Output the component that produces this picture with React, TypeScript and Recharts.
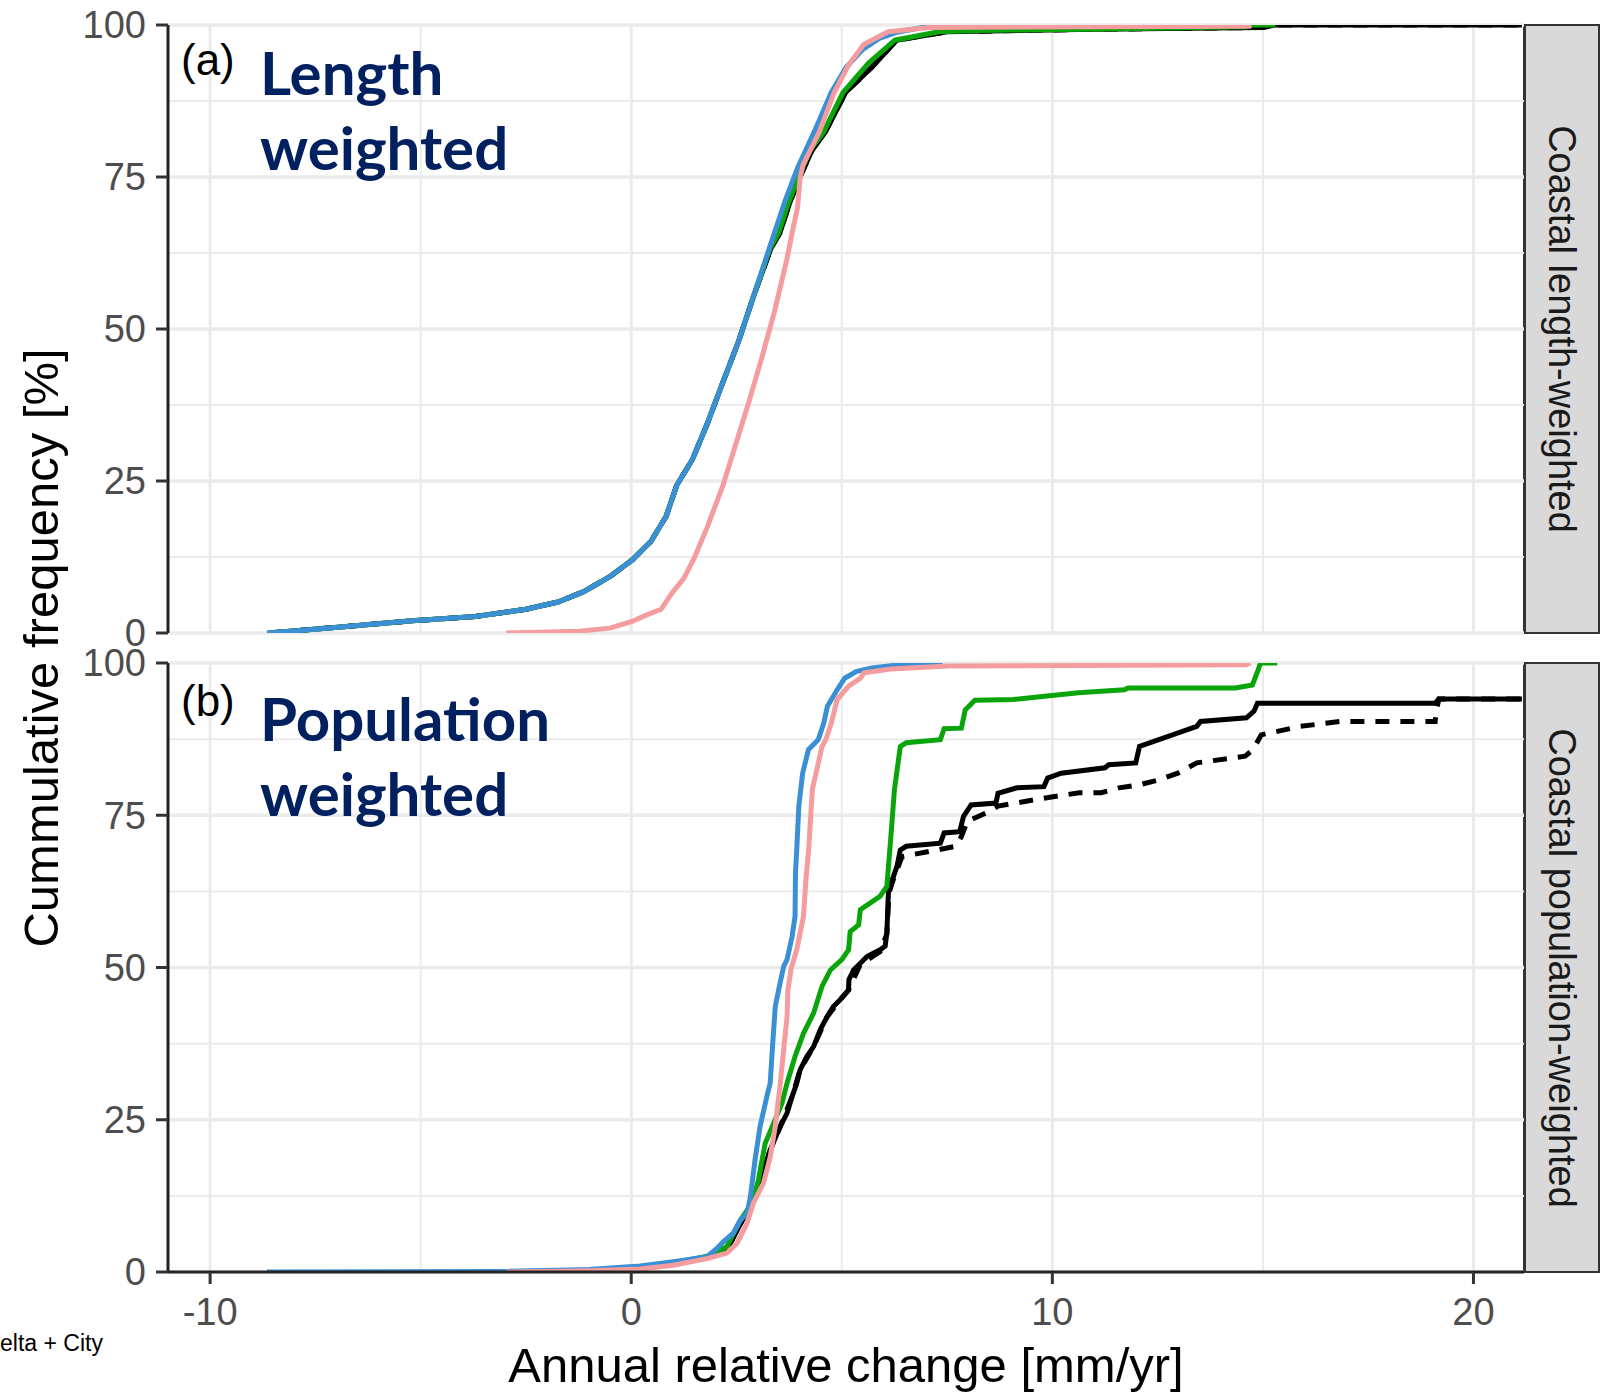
import React from "react";
import {
  LineChart,
  Line,
  XAxis,
  YAxis,
  ReferenceLine,
  ReferenceArea,
} from "recharts";

type Pair = [number, number];

// axis ticks / grid
const xTicks = [-10, 0, 10, 20];
const xMinor = [-5, 5, 15];
const yTicks = [0, 25, 50, 75, 100];
const yMinor = [12.5, 37.5, 62.5, 87.5];
const xDomain: [number, number] = [-11, 21.2];

// (a) coastal length-weighted: [mm/yr, cumulative %]
const lengthBlue: Pair[] = [
  [-8.65, 0], [-7.5, 0.6], [-6.9, 1], [-5.2, 2], [-3.7, 2.7], [-2.5, 3.9],
  [-1.74, 5.1], [-1.13, 6.8], [-0.5, 9.3], [0.02, 12], [0.47, 15.1],
  [0.83, 19.2], [1.08, 24.3], [1.45, 28.5], [1.81, 34.5], [2.18, 41.3],
  [2.55, 48], [2.92, 55.7], [3.28, 63.3], [3.65, 71], [3.95, 76.5],
  [4.35, 82.5], [4.75, 88.9], [5.1, 93], [5.5, 96], [5.89, 97.8],
  [6.3, 98.8], [7.0, 99.7], [7.4, 100],
];
const lengthPink: Pair[] = [
  [-2.97, 0], [-1.25, 0.3], [-0.5, 0.8], [0.02, 1.9], [0.34, 2.9],
  [0.71, 3.9], [0.96, 6.5], [1.25, 9], [1.5, 12.4], [1.81, 17.5],
  [2.18, 24.3], [2.48, 31], [2.79, 37.9], [3.11, 45.5], [3.41, 53.1],
  [3.7, 61.6], [3.82, 65.8], [3.95, 70], [4.01, 74.9], [4.08, 77],
  [4.46, 82.3], [4.82, 88.9], [5.15, 93.3], [5.52, 96.8], [6.1, 98.9],
  [7.08, 99.6], [14.68, 99.8], [14.7, 100],
];
const lengthGreen: Pair[] = [
  [-8.6, 0], [-6.9, 1], [-5.2, 2], [-3.7, 2.7], [-2.5, 3.9], [-1.74, 5.1],
  [-1.13, 6.8], [-0.5, 9.3], [0.02, 12], [0.47, 15.1], [0.83, 19.2],
  [1.08, 24.3], [1.45, 28.5], [1.81, 34.5], [2.18, 41.3], [2.55, 48],
  [2.92, 55.7], [3.3, 63.3], [3.5, 65.8], [3.72, 70.5], [3.97, 74.9],
  [4.25, 79.5], [4.56, 82.3], [5.03, 88.9], [5.63, 93.7], [6.26, 97.5],
  [7.31, 98.9], [8.27, 99.1], [10.9, 99.3], [14.6, 99.7], [14.65, 100],
  [15.3, 100],
];
const lengthBlack: Pair[] = [
  [-8.6, 0], [-6.9, 1], [-5.2, 2], [-3.7, 2.7], [-2.5, 3.9], [-1.74, 5.1],
  [-1.13, 6.8], [-0.5, 9.3], [0.02, 12], [0.47, 15.1], [0.83, 19.2],
  [1.08, 24.3], [1.45, 28.5], [1.81, 34.5], [2.18, 41.3], [2.55, 48],
  [2.92, 55.7], [3.32, 63.3], [3.53, 65.8], [3.75, 70.5], [4.0, 74.9],
  [4.3, 79.5], [4.6, 82.3], [5.09, 88.9], [5.72, 93.1], [6.3, 97.5],
  [7.5, 98.9], [11, 99.3], [15, 99.6], [15.3, 100], [21.15, 100],
];

// (b) coastal population-weighted
const popBlue: Pair[] = [
  [-8.65, 0], [-2.97, 0.1], [-1, 0.4], [0.21, 1.0], [1.0, 1.7], [1.8, 2.5],
  [2.04, 3.9], [2.19, 5], [2.43, 6.4], [2.59, 8.5], [2.75, 9.6],
  [2.83, 12.4], [2.94, 18.4], [3.06, 23.9], [3.22, 28.8], [3.3, 31],
  [3.35, 36.5], [3.42, 43.6], [3.5, 46.3], [3.62, 50.2], [3.7, 51.3],
  [3.82, 55.1], [3.89, 58.4], [3.9, 65.5], [3.93, 69.3], [3.98, 76.5],
  [4.07, 81.9], [4.21, 85.8], [4.44, 87.4], [4.57, 90.1], [4.66, 92.9],
  [4.89, 95.6], [5.07, 97.5], [5.34, 98.6], [5.71, 99.2], [6.62, 99.9],
  [7.4, 100],
];
const popPink: Pair[] = [
  [-2.97, 0], [-1, 0.2], [0.21, 0.5], [1.0, 1.1], [1.8, 2.2], [2.27, 3.1],
  [2.51, 4.7], [2.75, 8], [2.9, 11.3], [3.14, 14.6], [3.3, 18.9],
  [3.42, 23.9], [3.54, 31], [3.62, 36.5], [3.7, 41.9], [3.72, 46.3],
  [3.8, 49.9], [3.93, 52.9], [4.09, 58.4], [4.15, 64.5], [4.22, 70],
  [4.3, 79.2], [4.53, 86.3], [4.62, 87.4], [4.75, 90.1], [4.89, 94],
  [5.16, 96.2], [5.44, 97.5], [5.53, 98.4], [6.16, 99], [7.53, 99.5],
  [14.6, 99.7], [14.7, 100],
];
const popGreen: Pair[] = [
  [-2.97, 0], [-1, 0.2], [0.21, 0.6], [1.4, 2], [1.95, 2.8], [2.27, 4.2],
  [2.59, 8.5], [2.87, 11.3], [3.02, 15.1], [3.18, 21.1], [3.38, 24.4],
  [3.58, 27.7], [3.7, 31], [3.89, 35.4], [4.09, 39.2], [4.33, 42.5],
  [4.53, 46.9], [4.73, 49.6], [5.0, 51.3], [5.16, 52.9], [5.2, 55.9],
  [5.4, 57], [5.44, 59.5], [5.68, 60.6], [5.91, 61.7], [6.07, 63.3],
  [6.16, 71], [6.25, 79.2], [6.39, 86.3], [6.53, 86.9], [7.34, 87.4],
  [7.43, 89.2], [7.84, 89.3], [7.93, 92.3], [8.16, 93.9], [9.07, 94],
  [10.62, 95.1], [11.71, 95.6], [11.8, 95.9], [14.35, 95.9], [14.75, 96.4],
  [14.89, 98.9], [14.94, 100], [15.34, 100],
];
const popBlack: Pair[] = [
  [-2.97, 0], [-1, 0.2], [0.21, 0.5], [1.4, 1.8], [2.0, 2.8], [2.3, 4],
  [2.6, 8], [2.9, 12], [3.1, 16], [3.3, 20], [3.45, 22.5], [3.54, 23.9],
  [3.7, 26.1], [3.82, 28.8], [3.93, 31], [4.01, 33.2], [4.17, 35.4],
  [4.33, 37], [4.49, 39.8], [4.65, 41.9], [4.8, 43.6], [4.96, 44.7],
  [5.16, 46.3], [5.17, 48], [5.28, 49.6], [5.44, 50.7], [5.6, 51.8],
  [5.76, 52.4], [5.91, 52.9], [6.03, 53.5], [6.07, 55.7], [6.11, 62.8],
  [6.23, 65], [6.31, 66.6], [6.39, 69.3], [6.53, 69.9], [7.34, 70.4],
  [7.43, 72.1], [7.8, 72.3], [7.89, 74.8], [8.07, 76.7], [8.66, 77],
  [8.71, 78.6], [9.16, 79.5], [9.8, 79.7], [9.89, 81.1], [10.21, 81.9],
  [11.25, 82.8], [11.34, 83.3], [11.98, 83.6], [12.07, 86.3], [13.43, 89.6],
  [13.52, 90.4], [14.61, 91], [14.79, 92.1], [14.87, 93.4], [19.09, 93.4],
  [19.18, 94.1], [21.15, 94.1],
];
const popBlackDashed: Pair[] = [
  [-2.97, 0], [-1, 0.2], [0.21, 0.5], [1.4, 1.8], [2.0, 2.8], [2.3, 4],
  [2.6, 8], [2.9, 12], [3.1, 16], [3.3, 20], [3.54, 23.9], [3.82, 28.8],
  [4.01, 33.2], [4.33, 37], [4.65, 41.9], [4.96, 44.7], [5.16, 46.3],
  [5.44, 50.5], [5.91, 52.6], [6.07, 55.5], [6.12, 62.2], [6.2, 64],
  [6.43, 68.2], [7.71, 69.9], [7.84, 71.5], [7.98, 74], [8.43, 75.4],
  [8.71, 76.5], [9.8, 77.8], [10.64, 78.7], [11.16, 78.7], [11.58, 79.5],
  [12.07, 80], [12.52, 80.8], [12.98, 81.9], [13.43, 83.6], [14.58, 84.7],
  [14.77, 85.8], [14.96, 88.2], [15.89, 89.6], [16.84, 90.4], [19.09, 90.4],
  [19.12, 92.3], [19.18, 94.1], [21.15, 94.1],
];

const toPoints = (pairs: Pair[]) => pairs.map(([x, y]) => ({ x, y }));

type SeriesDef = { key: string; data: Pair[]; color: string; dash?: string };

const lengthSeries: SeriesDef[] = [
  { key: "blackDashed", data: lengthBlack, color: "#000000", dash: "14 11" },
  { key: "black", data: lengthBlack, color: "#000000" },
  { key: "green", data: lengthGreen, color: "#0AA50A" },
  { key: "blue", data: lengthBlue, color: "#3B8FD4" },
  { key: "pink", data: lengthPink, color: "#F59C9E" },
];
const popSeries: SeriesDef[] = [
  { key: "blackDashed", data: popBlackDashed, color: "#000000", dash: "14 11" },
  { key: "black", data: popBlack, color: "#000000" },
  { key: "green", data: popGreen, color: "#0AA50A" },
  { key: "blue", data: popBlue, color: "#3B8FD4" },
  { key: "pink", data: popPink, color: "#F59C9E" },
];

const tickText = { fill: "#4D4D4D", fontSize: 38 };

const Panel: React.FC<{
  series: SeriesDef[];
  showX: boolean;
  height: number;
  marginTop: number;
  marginBottom: number;
}> = ({ series, showX, height, marginTop, marginBottom }) => (
  <LineChart
    width={1620}
    height={height}
    margin={{ top: marginTop, right: 96, bottom: marginBottom, left: 108 }}
  >
    <XAxis
      type="number"
      dataKey="x"
      domain={xDomain}
      ticks={xTicks}
      interval={0}
      allowDataOverflow
      hide={!showX}
      height={60}
      tick={tickText}
      tickSize={12}
      tickMargin={14}
      axisLine={{ stroke: "#222", strokeWidth: 3 }}
      tickLine={{ stroke: "#333", strokeWidth: 3 }}
    />
    <YAxis
      type="number"
      domain={[0, 100]}
      ticks={yTicks}
      interval={0}
      allowDataOverflow
      width={60}
      tick={tickText}
      tickSize={12}
      tickMargin={10}
      axisLine={{ stroke: "#222", strokeWidth: 3 }}
      tickLine={{ stroke: "#333", strokeWidth: 3 }}
    />
    {yMinor.map((v) => (
      <ReferenceLine key={"ym" + v} y={v} stroke="#EBEBEB" strokeWidth={2} />
    ))}
    {xMinor.map((v) => (
      <ReferenceLine key={"xm" + v} x={v} stroke="#EBEBEB" strokeWidth={2} />
    ))}
    {yTicks.map((v) => (
      <ReferenceLine key={"y" + v} y={v} stroke="#EBEBEB" strokeWidth={3.5} />
    ))}
    {xTicks.map((v) => (
      <ReferenceLine key={"x" + v} x={v} stroke="#EBEBEB" strokeWidth={3} />
    ))}
    <ReferenceArea
      x1={xDomain[0]}
      x2={xDomain[1]}
      y1={0}
      y2={100}
      fill="none"
      fillOpacity={0}
      stroke="#333333"
      strokeWidth={2}
    />
    {series.map((s) => (
      <Line
        key={s.key}
        data={toPoints(s.data)}
        dataKey="y"
        type="linear"
        stroke={s.color}
        strokeWidth={5}
        strokeDasharray={s.dash}
        dot={false}
        activeDot={false}
        isAnimationActive={false}
      />
    ))}
  </LineChart>
);

const navy = "#002060";

export default function App() {
  return (
    <div
      style={{
        position: "absolute",
        left: 0,
        top: 0,
        width: 1620,
        height: 1395,
        background: "#fff",
        fontFamily: "'Liberation Sans', Arial, sans-serif",
        overflow: "hidden",
      }}
    >
      <div style={{ position: "absolute", left: 0, top: 0 }}>
        <Panel series={lengthSeries} showX={false} height={660} marginTop={25} marginBottom={27} />
      </div>
      <div style={{ position: "absolute", left: 0, top: 640 }}>
        <Panel series={popSeries} showX={true} height={755} marginTop={23} marginBottom={63} />
      </div>
      <svg
        width={1620}
        height={1395}
        style={{ position: "absolute", left: 0, top: 0, pointerEvents: "none" }}
      >
        {/* facet strips */}
        <rect x={1525} y={25} width={74} height={608} fill="#D9D9D9" stroke="#333" strokeWidth={2} />
        <rect x={1525} y={663} width={74} height={609} fill="#D9D9D9" stroke="#333" strokeWidth={2} />
        <text
          transform="translate(1562,329) rotate(90)"
          textAnchor="middle"
          dominantBaseline="central"
          fontSize={38}
          fill="#1A1A1A"
        >
          Coastal length-weighted
        </text>
        <text
          transform="translate(1562,968) rotate(90)"
          textAnchor="middle"
          dominantBaseline="central"
          fontSize={38}
          fill="#1A1A1A"
        >
          Coastal population-weighted
        </text>

        {/* panel tags */}
        <text x={181} y={75} fontSize={44} fill="#000">(a)</text>
        <text x={181} y={716} fontSize={44} fill="#000">(b)</text>
        <g fontFamily="Lato, 'Open Sans', sans-serif" fontWeight={700} fontSize={60} fill={navy}>
          <text x={260} y={95}>Length</text>
          <text x={260} y={170}>weighted</text>
          <text x={260} y={741}>Population</text>
          <text x={260} y={816}>weighted</text>
        </g>

        {/* axis titles */}
        <text
          transform="translate(41,648) rotate(-90)"
          textAnchor="middle"
          dominantBaseline="central"
          fontSize={49}
          fill="#000"
        >
          Cummulative frequency [%]
        </text>
        <text x={846} y={1382} textAnchor="middle" fontSize={49} fill="#000">
          Annual relative change [mm/yr]
        </text>

        {/* clipped legend remnant */}
        <text x={0} y={1351} fontSize={23} fill="#000">elta + City</text>
      </svg>
    </div>
  );
}
